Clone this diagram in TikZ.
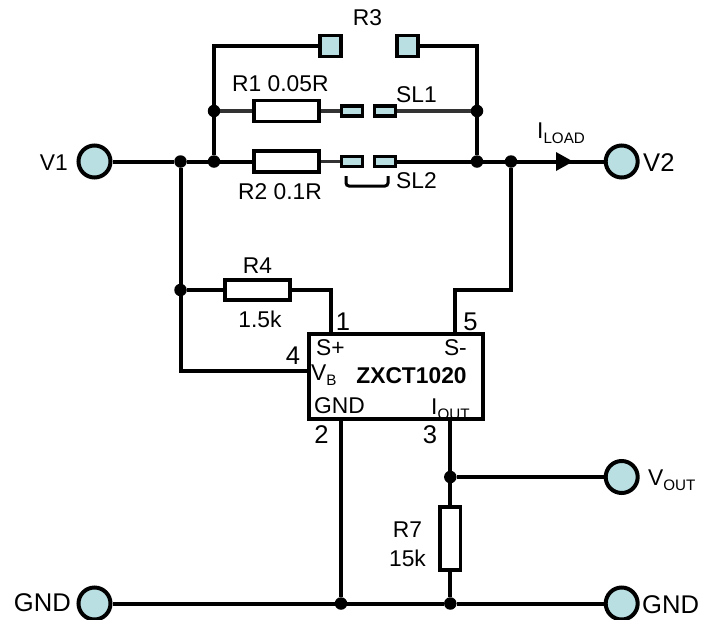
\documentclass[tikz,border=0pt]{standalone}
\usepackage{fontspec}
\setmainfont{Liberation Sans}
\definecolor{padc}{HTML}{B9DFE2}
\newcommand{\lbl}{\fontsize{22.8}{25}\selectfont}
\newcommand{\lblbig}{\fontsize{25.6}{28}\selectfont}
\newcommand{\sbs}[1]{\raisebox{-5pt}{\fontsize{15.2}{16}\selectfont #1}}
\tikzset{
  x=1pt,y=-1pt,
  wire/.style={line width=4pt,black},
  thinwire/.style={line width=3.6pt,black!80},
  term/.style={circle,draw=black,line width=4pt,fill=padc,minimum size=32pt,inner sep=0pt},
  junc/.style={circle,fill=black,minimum size=12.5pt,inner sep=0pt},
  res/.style={rectangle,draw=black,line width=3.6pt,fill=white,inner sep=0pt},
  bigpad/.style={rectangle,draw=black,line width=3.6pt,fill=padc,minimum width=21pt,minimum height=21pt,inner sep=0pt},
  smallpad/.style={rectangle,draw=black,line width=3.2pt,fill=padc,minimum width=21pt,minimum height=10pt,inner sep=0pt},
  txt/.style={font=\lbl,inner sep=0pt,text=black},
  bigtxt/.style={font=\lblbig,inner sep=0pt,text=black},
  ic/.style={rectangle,draw=black,line width=3.2pt,fill=white,minimum width=174pt,minimum height=85pt,inner sep=0pt},
}
\begin{document}
\begin{tikzpicture}
\useasboundingbox (0,0) rectangle (702,619);
% terminals
\node[term] (v1) at (94.5,161.5) {};
\node[term] (v2) at (621.7,161.5) {};
\node[term] (vout) at (621.7,477) {};
\node[term] (gl) at (94.5,603.5) {};
\node[term] (gr) at (621.7,603.5) {};
% junctions
\node[junc] (n1) at (180.5,161.5) {};
\node[junc] (n2) at (214,161.5) {};
\node[junc] (n3) at (214,111) {};
\node[junc] (n4) at (477,111) {};
\node[junc] (n5) at (477,161.5) {};
\node[junc] (n6) at (511,161.5) {};
\node[junc] (n7) at (180.5,290) {};
\node[junc] (n8) at (450.3,477) {};
\node[junc] (n9) at (341,603.5) {};
\node[junc] (n10) at (450.3,603.5) {};
% parts
\node[bigpad] (r3a) at (330.5,46) {};
\node[bigpad] (r3b) at (407.5,46) {};
\node[res,minimum width=65pt,minimum height=21pt] (r1) at (286.5,111) {};
\node[res,minimum width=65pt,minimum height=21pt] (r2) at (286.5,161.5) {};
\node[res,minimum width=65pt,minimum height=20pt] (r4) at (257.5,290) {};
\node[res,minimum width=20.5pt,minimum height=63.5pt] (r7) at (450.3,538.5) {};
\node[smallpad] (sa) at (352,111) {};
\node[smallpad] (sb) at (385,111) {};
\node[smallpad] (sc) at (352,161.5) {};
\node[smallpad] (sd) at (385,161.5) {};
\node[ic] (u) at (396,376.5) {};
% free ends on the IC outline and wire corners
\coordinate (p1) at (331,333);
\coordinate (p5) at (455,333);
\coordinate (p5t) at (455,290);
\coordinate (p5r) at (511,290);
\coordinate (p4) at (308,371);
\coordinate (p4l) at (180.5,371);
\coordinate (p2) at (341,420);
\coordinate (p3) at (450.3,420);
\coordinate (br1) at (346,176);
\coordinate (br2) at (346,186);
\coordinate (br3) at (388,186);
\coordinate (br4) at (388,176);
% wires
\draw[wire] (n3) -- (n2);
\draw[wire] (n4) -- (n5);
\draw[wire] (n3) |- (r3a);
\draw[wire] (n4) |- (r3b);
\draw[thinwire] (n3) -- (r1);
\draw[thinwire] (r1) -- (sa);
\draw[thinwire] (sb) -- (n4);
\draw[wire] (v1) -- (n1);
\draw[wire] (n1) -- (n2);
\draw[wire] (n2) -- (r2);
\draw[thinwire] (r2) -- (sc);
\draw[wire] (sd) -- (n5);
\draw[wire] (n5) -- (n6);
\draw[wire] (n6) -- (v2);
\draw[wire] (n1) -- (n7);
\draw[wire] (n7) -- (p4l) -- (p4);
\draw[wire] (n7) -- (r4);
\draw[wire] (r4) -| (p1);
\draw[wire] (n6) -- (p5r) -- (p5t) -- (p5);
\draw[wire] (p2) -- (n9);
\draw[wire] (p3) -- (n8);
\draw[wire] (n8) -- (r7);
\draw[wire] (r7) -- (n10);
\draw[wire] (n8) -- (vout);
\draw[wire] (gl) -- (n9);
\draw[wire] (n9) -- (n10);
\draw[wire] (n10) -- (gr);
\draw[line width=3pt,rounded corners=3pt] (br1) -- (br2) -- (br3) -- (br4);
% arrow
\coordinate (a1) at (556,152);
\coordinate (a2) at (573,161.5);
\coordinate (a3) at (556,171);
\fill[black] (a1) -- (a2) -- (a3) -- cycle;
% labels
\node[txt,anchor=base] (tr3) at (367.5,25) {R3};
\node[txt,anchor=base west] (tr1) at (232,91) {R1 0.05R};
\node[txt,anchor=base west] (tsl1) at (396,102) {SL1};
\node[txt,anchor=base west] (tr2) at (238,199) {R2 0.1R};
\node[txt,anchor=base west] (tsl2) at (396,188) {SL2};
\node[txt,anchor=base east] (tv1) at (68,170) {V1};
\node[bigtxt,anchor=base west] (tv2) at (643,171) {V2};
\node[txt,anchor=base west] (til) at (537,138) {I\sbs{LOAD}};
\node[txt,anchor=base] (tr4) at (257.5,273) {R4};
\node[txt,anchor=base] (t15) at (260,327) {1.5k};
\node[bigtxt,anchor=base] (tp1) at (343,330) {1};
\node[bigtxt,anchor=base] (tp5) at (470.5,330) {5};
\node[bigtxt,anchor=base] (tp4) at (293,364) {4};
\node[bigtxt,anchor=base] (tp2) at (321.5,443) {2};
\node[bigtxt,anchor=base] (tp3) at (430,443) {3};
\node[txt,anchor=base west] (ts1) at (316,355) {S+};
\node[txt,anchor=base east] (ts2) at (467,355) {S-};
\node[txt,anchor=base west] (tvb) at (311,380) {V\sbs{B}};
\node[txt,anchor=base] (tic) at (411.5,383) {\bfseries ZXCT1020};
\node[txt,anchor=base west] (tg) at (314,413) {GND};
\node[txt,anchor=base west] (tio) at (431,414) {I\sbs{OUT}};
\node[txt,anchor=base west] (tvo) at (648,485) {V\sbs{OUT}};
\node[txt,anchor=base] (tr7) at (407.5,537) {R7};
\node[txt,anchor=base] (t15k) at (407.5,566) {15k};
\node[bigtxt,anchor=base east] (tgl) at (71,611) {GND};
\node[bigtxt,anchor=base west] (tgr) at (642,613) {GND};
\end{tikzpicture}
\end{document}
